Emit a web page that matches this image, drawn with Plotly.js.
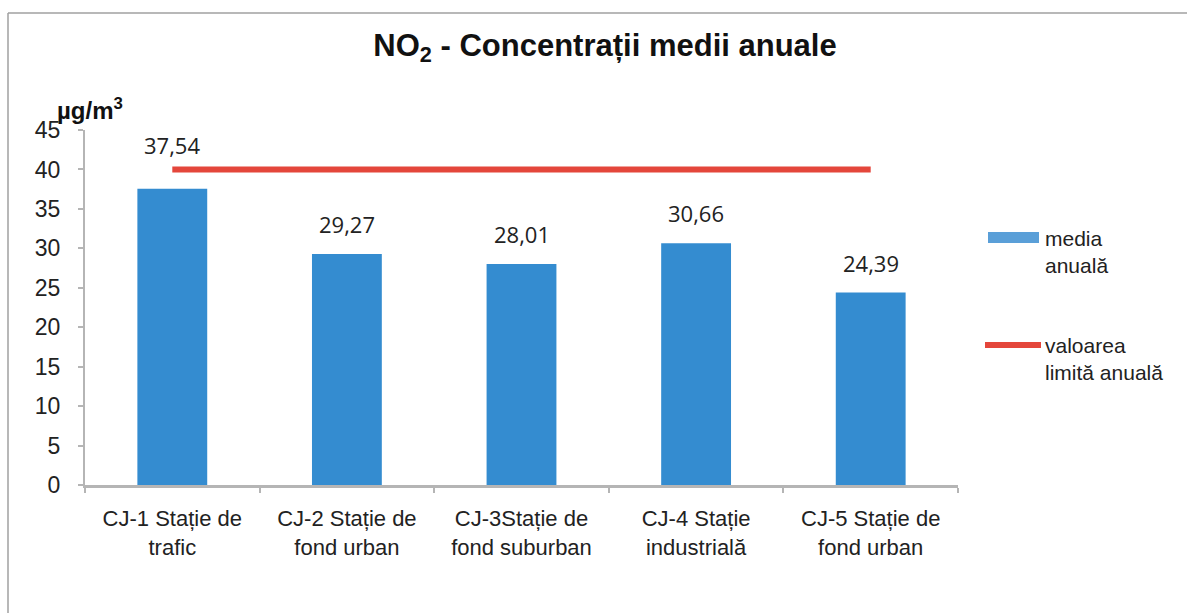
<!DOCTYPE html>
<html>
<head>
<meta charset="utf-8">
<script src="https://cdn.plot.ly/plotly-3.0.1.min.js"></script>
<style>html,body{margin:0;padding:0;background:#fff;}#chart{width:1187px;height:613px;}</style>
</head>
<body>
<div id="chart"></div>
<script>
// ---- data ----
const categories = [
  "CJ-1 Stație de<br>trafic",
  "CJ-2 Stație de<br>fond urban",
  "CJ-3Stație de<br>fond suburban",
  "CJ-4 Stație<br>industrială",
  "CJ-5 Stație de<br>fond urban"
];
const mediaAnuala = [37.54, 29.27, 28.01, 30.66, 24.39];
const valoareLimita = [40, 40, 40, 40, 40];
const valueLabels = ["37,54", "29,27", "28,01", "30,66", "24,39"];
const yTicks = [0, 5, 10, 15, 20, 25, 30, 35, 40, 45];
const seriesNames = ["media<br>anuală", "valoarea<br>limită anuală"];

const W = 1187, H = 613;
const L = 85, R = 229, T = 130, B = 128;
const pw = W - L - R, ph = H - T - B;
const px = v => (v - L) / pw;      // pixel x -> paper x
const py = v => (H - B - v) / ph;  // pixel y -> paper y

const font = "Liberation Sans, Arial, sans-serif";
const blue = "#348cd0";
const red = "#e4463b";

const traces = [
  {
    type: "bar", x: categories, y: mediaAnuala, name: seriesNames[0],
    marker: {color: blue}, showlegend: false, hoverinfo: "y"
  },
  {
    type: "scatter", mode: "lines", x: categories, y: valoareLimita, name: seriesNames[1],
    line: {color: red, width: 6}, showlegend: false
  }
];

// value labels; a label that would touch the limit line is lifted above it
const annotations = categories.map((c, i) => {
  const nearLine = valoareLimita[i] - mediaAnuala[i] < 4;
  return {
    x: c, y: mediaAnuala[i], xref: "x", yref: "y",
    text: valueLabels[i], showarrow: false, yanchor: "bottom",
    yshift: nearLine ? 27 : 13,
    font: {family: "Open Sans, Liberation Sans, sans-serif", size: 22, color: "#222"}
  };
});

annotations.push({
  xref: "paper", yref: "paper", x: px(90), y: py(109), xanchor: "center", yanchor: "middle",
  text: "<b>µg/m<sup>3</sup></b>", showarrow: false,
  font: {family: font, size: 24, color: "#111"}
});

// manual legend
annotations.push({
  xref: "paper", yref: "paper", x: px(1043), y: py(252), xanchor: "left", yanchor: "middle",
  text: seriesNames[0], align: "left", showarrow: false,
  font: {family: font, size: 21, color: "#222"}
});
annotations.push({
  xref: "paper", yref: "paper", x: px(1043), y: py(359), xanchor: "left", yanchor: "middle",
  text: seriesNames[1], align: "left", showarrow: false,
  font: {family: font, size: 21, color: "#222"}
});

const shapes = [
  {type: "rect", xref: "paper", yref: "paper", x0: px(988), x1: px(1039), y0: py(232), y1: py(243),
   fillcolor: "#5a9fd8", line: {width: 0}},
  {type: "line", xref: "paper", yref: "paper", x0: px(985), x1: px(1041), y0: py(345), y1: py(345),
   line: {color: red, width: 6}},
  // frame of the scanned figure
  {type: "line", xref: "paper", yref: "paper", x0: px(8), x1: px(8), y0: py(13), y1: py(613),
   line: {color: "#a0a0a0", width: 1.5}},
  {type: "line", xref: "paper", yref: "paper", x0: px(8), x1: px(1187), y0: py(13), y1: py(13),
   line: {color: "#a0a0a0", width: 1.5}}
];

const layout = {
  width: W, height: H,
  margin: {l: L, r: R, t: T, b: B, pad: 0},
  paper_bgcolor: "#ffffff", plot_bgcolor: "#ffffff",
  title: {
    text: "<b>NO<sub>2</sub> - Concentrații medii anuale</b>",
    x: 605 / W, xref: "container", xanchor: "center",
    y: 1 - 45 / H, yref: "container", yanchor: "middle",
    font: {family: font, size: 31, color: "#111"}
  },
  bargap: 0.6,
  xaxis: {
    type: "category", showgrid: false, zeroline: false,
    showline: true, linecolor: "#b5b5b5", linewidth: 3,
    ticks: "outside", tickson: "boundaries", ticklen: 5, tickcolor: "#b5b5b5", tickwidth: 2,
    ticklabelstandoff: 12,
    tickfont: {family: font, size: 22, color: "#222"},
    range: [-0.5, 4.5]
  },
  yaxis: {
    range: [0, 45], tickvals: yTicks, showgrid: false, zeroline: false,
    showline: true, linecolor: "#b5b5b5", linewidth: 2,
    ticks: "outside", ticklen: 5, tickcolor: "#b5b5b5", tickwidth: 2,
    ticklabelstandoff: 13,
    tickfont: {family: font, size: 23, color: "#222"}
  },
  showlegend: false,
  annotations: annotations,
  shapes: shapes
};

Plotly.newPlot("chart", traces, layout, {displayModeBar: false, staticPlot: true});
</script>
</body>
</html>
